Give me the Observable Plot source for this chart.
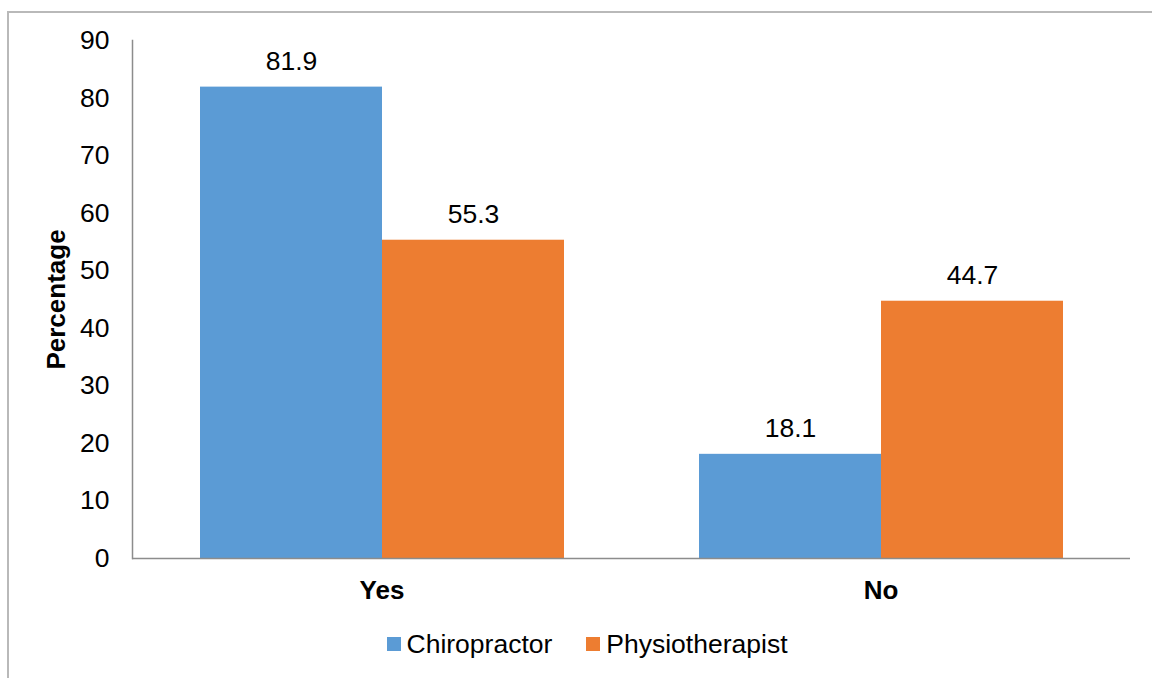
<!DOCTYPE html>
<html>
<head>
<meta charset="utf-8">
<script src="https://cdn.jsdelivr.net/npm/d3@7"></script>
<script src="https://cdn.jsdelivr.net/npm/@observablehq/plot@0.6"></script>
<style>
  html, body { margin: 0; padding: 0; background: #fff; }
  body { width: 1152px; height: 678px; overflow: hidden; position: relative; font-family: "Liberation Sans", Arial, sans-serif; }
  #frame { position: absolute; left: 7px; top: 11px; width: 1300px; height: 800px; border-top: 2px solid #b9b9b9; border-left: 2px solid #b9b9b9; pointer-events: none; z-index: 2; }
  #legend { display: flex; justify-content: center; align-items: center; padding-left: 22px; margin-top: 10px; font-size: 26.5px; color: #000; line-height: 28px; }
  #legend .item { display: flex; align-items: center; margin: 0 17px; }
  #legend .sw { width: 14px; height: 14px; margin-right: 6px; }
</style>
</head>
<body>
<div id="frame"></div>
<div id="chart"></div>
<div id="legend"></div>
<script>
const categories = ["Yes", "No"];
const series = ["Chiropractor", "Physiotherapist"];
const chiropractor = [81.9, 18.1];
const physiotherapist = [55.3, 44.7];
const yTicks = [0, 10, 20, 30, 40, 50, 60, 70, 80, 90];
const colors = ["#5B9BD5", "#ED7D31"];
const yLabel = "Percentage";

const valuesBySeries = [chiropractor, physiotherapist];
const table = [];
categories.forEach((c, i) => {
  series.forEach((s, j) => {
    table.push({category: c, series: s, value: valuesBySeries[j][i]});
  });
});

const plot = Plot.plot({
  width: 1152,
  height: 620,
  marginLeft: 131,
  marginRight: 22,
  marginTop: 40,
  marginBottom: 62,
  style: {fontFamily: "Liberation Sans, Arial, sans-serif", fontSize: "26px", color: "#000", background: "transparent"},
  fx: {domain: categories, padding: 0, label: null},
  x: {domain: series, paddingInner: 0, paddingOuter: 0.37, axis: null},
  y: {domain: [0, 90], label: null},
  color: {domain: series, range: colors},
  marks: [
    Plot.barY(table, {fx: "category", x: "series", y: "value", fill: "series"}),
    Plot.ruleY([0], {stroke: "#8c8c8c", strokeWidth: 1.5}),
    Plot.frame({anchor: "left", facetAnchor: "left", stroke: "#8c8c8c", strokeWidth: 1.5}),
    Plot.axisY({ticks: yTicks, tickSize: 0, tickPadding: 23, fontSize: 26.5, label: null}),
    Plot.axisFx({anchor: "bottom", tickSize: 0, tickPadding: 22, fontSize: 26, fontWeight: "bold", label: null}),
    Plot.text(table, {fx: "category", x: "series", y: "value", text: d => d.value.toFixed(1), dy: -26, fontSize: 26.5, fill: "#000"}),
    Plot.text([yLabel], {fx: () => categories[0], frameAnchor: "left", textAnchor: "middle", text: d => d, rotate: -90, dx: -76, fontSize: 26, fontWeight: "bold", fill: "#000"})
  ]
});
document.getElementById("chart").appendChild(plot);

const legend = document.getElementById("legend");
series.forEach((s, j) => {
  const item = document.createElement("div");
  item.className = "item";
  const sw = document.createElement("div");
  sw.className = "sw";
  sw.style.background = colors[j];
  const label = document.createElement("span");
  label.textContent = s;
  item.appendChild(sw);
  item.appendChild(label);
  legend.appendChild(item);
});
</script>
</body>
</html>
